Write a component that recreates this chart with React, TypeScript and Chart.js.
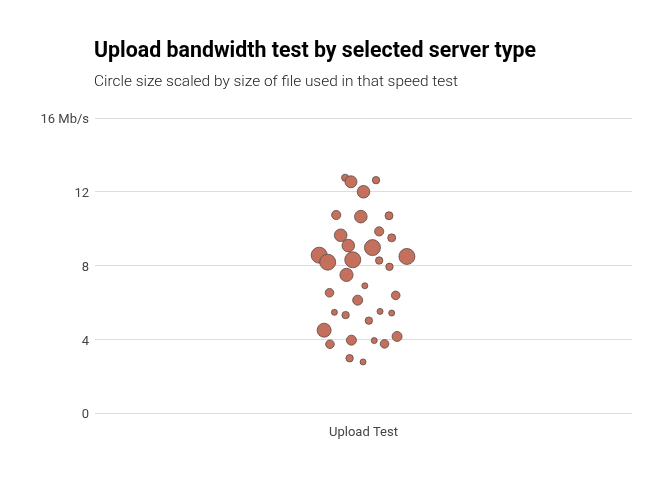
import React, { useEffect, useRef } from "react";
import { Chart, registerables } from "chart.js";

Chart.register(...registerables);

const TITLE = "Upload bandwidth test by selected server type";
const SUBTITLE = "Circle size scaled by size of file used in that speed test";
const CATEGORY = "Upload Test";
const Y_TICKS = [0, 4, 8, 12, 16];

// jittered x position around the single category (category at 1)
const jitterX = [
  0.959, 0.972, 1.028, 1.0, 0.939, 0.994, 1.057, 0.949, 1.035, 1.063, 0.966, 1.02,
  0.901, 0.92, 0.976, 1.035, 1.058, 1.097, 0.962, 1.003, 0.924, 0.987, 1.072, 0.935,
  0.96, 1.037, 1.063, 1.012, 0.912, 0.925, 0.973, 1.024, 1.047, 1.075, 0.969, 0.999,
];
// upload speed, Mb/s
const speeds = [
  12.76, 12.54, 12.63, 12.0, 10.74, 10.65, 10.7, 9.64, 9.85, 9.5, 9.08, 8.97,
  8.56, 8.18, 8.31, 8.27, 7.93, 8.49, 7.49, 6.9, 6.52, 6.12, 6.38, 5.46,
  5.31, 5.51, 5.42, 5.01, 4.49, 3.73, 3.95, 3.93, 3.75, 4.15, 2.97, 2.77,
];
// circle radius (scaled by file size)
const sizes = [
  3.6, 6, 3.7, 6.3, 4.6, 6.3, 4, 6.3, 4.6, 4, 6.3, 8,
  8, 8, 8, 3.7, 3.7, 8, 6.6, 3, 4.3, 5, 4.3, 3,
  3.7, 3, 3, 3.7, 7, 4.3, 5, 3, 4.3, 5, 3.7, 3,
];

const FONT = "Roboto";

function drawFitted(ctx: CanvasRenderingContext2D, text: string, x: number, y: number, width: number) {
  const w = ctx.measureText(text).width;
  ctx.save();
  ctx.translate(x, y);
  ctx.scale(width / w, 1);
  ctx.fillText(text, 0, 0);
  ctx.restore();
}

export default function App() {
  const ref = useRef<HTMLCanvasElement>(null);
  useEffect(() => {
    document.body.style.margin = "0";
    const titlePlugin = {
      id: "customTitle",
      afterDraw(chart: any) {
        const ctx = chart.ctx;
        const left = chart.chartArea.left - 1;
        ctx.save();
        ctx.fillStyle = "#000";
        ctx.textBaseline = "alphabetic";
        ctx.textAlign = "left";
        ctx.font = `bold 21.5px ${FONT}`;
        drawFitted(ctx, TITLE, left, 56.5, 442);
        ctx.fillStyle = "#222";
        ctx.font = `300 15px ${FONT}`;
        drawFitted(ctx, SUBTITLE, left, 85.5, 364);
        ctx.restore();
      },
    };
    const chart = new Chart(ref.current!, {
      type: "bubble",
      data: {
        datasets: [
          {
            data: speeds.map((s, i) => ({ x: jitterX[i], y: s, r: sizes[i] })),
            backgroundColor: "#c4705c",
            borderColor: "#5a4a46",
            borderWidth: 0.8,
          },
        ],
      },
      options: {
        animation: false,
        responsive: false,
        maintainAspectRatio: false,
        layout: { padding: { top: 118, right: 40, left: 0, bottom: 0 } },
        plugins: { legend: { display: false }, tooltip: { enabled: false }, title: { display: false } },
        scales: {
          x: {
            type: "linear",
            min: 0.4,
            max: 1.6,
            grid: { display: false, drawTicks: false },
            border: { display: false },
            afterFit: (s: any) => { s.height = 67; },
            afterBuildTicks: (s: any) => { s.ticks = [{ value: 1 }]; },
            ticks: {
              padding: 12,
              color: "#444",
              font: { family: FONT, size: 13 },
              callback: () => CATEGORY,
            },
          },
          y: {
            min: 0,
            max: 16,
            grid: { color: "#dddddd", drawTicks: false, lineWidth: 1 },
            border: { display: false },
            afterFit: (s: any) => { s.width = 95; },
            afterBuildTicks: (s: any) => { s.ticks = Y_TICKS.map((v) => ({ value: v })); },
            ticks: {
              padding: 6,
              labelOffset: 2,
              color: "#444",
              font: { family: FONT, size: 13, lineHeight: 1.0 },
              callback: (v: any) => (v === 16 ? "16 Mb/s" : String(v)),
            },
          },
        },
      },
      plugins: [titlePlugin],
    });
    return () => chart.destroy();
  }, []);
  return <canvas ref={ref} width={672} height={480} style={{ display: "block" }} />;
}
